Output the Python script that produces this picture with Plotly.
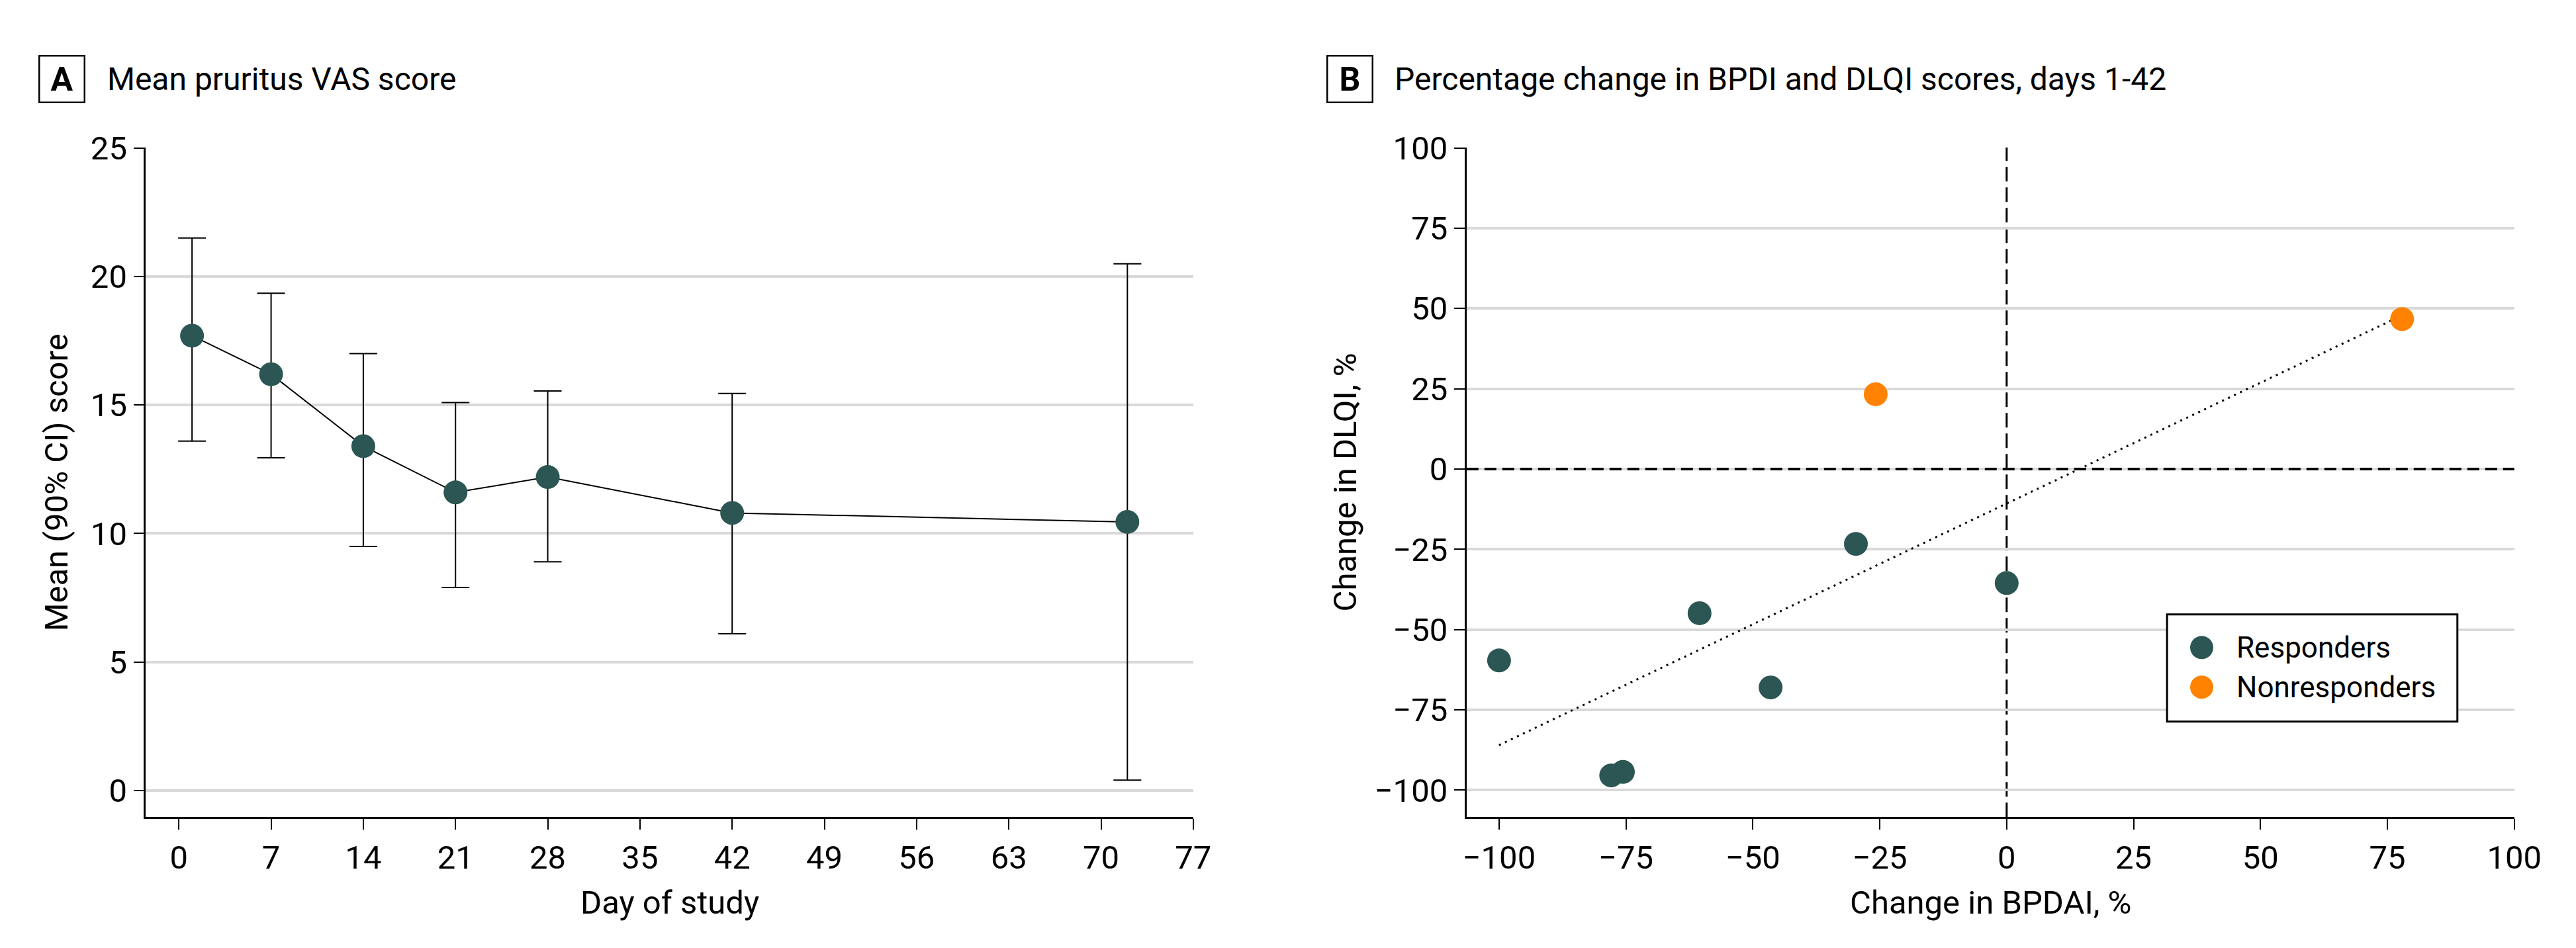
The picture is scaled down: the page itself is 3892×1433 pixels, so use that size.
import numpy as np
import plotly.graph_objects as go

# ---------------- Data ----------------
# Panel A: mean pruritus VAS score with 90% CI
days = [1, 7, 14, 21, 28, 42, 72]
vas_mean = [17.7, 16.2, 13.4, 11.6, 12.2, 10.8, 10.45]
vas_ci_low = [13.6, 12.95, 9.5, 7.9, 8.9, 6.1, 0.4]
vas_ci_high = [21.5, 19.35, 17.0, 15.1, 15.55, 15.45, 20.5]
a_xticks = [0, 7, 14, 21, 28, 35, 42, 49, 56, 63, 70, 77]
a_yticks = [0, 5, 10, 15, 20, 25]

# Panel B: percentage change in BPDAI vs DLQI
resp_bpdai = [-100, -77.9, -75.6, -60.5, -46.5, -29.7, 0]
resp_dlqi = [-59.6, -95.4, -94.3, -44.9, -68.0, -23.3, -35.5]
nonresp_bpdai = [-25.8, 77.9]
nonresp_dlqi = [23.3, 46.7]
b_ticks = [-100, -75, -50, -25, 0, 25, 50, 75, 100]

# ---------------- Style ----------------
W, H = 3892, 1433
TEAL = "#2B5654"
ORANGE = "#FF8300"
GRID = "#D9D9D9"
FONT = "Roboto"
TICK_SIZE = 49
TITLE_SIZE = 48
LABEL_SIZE = 49

def px_x(p):
    return p / W

def px_y(p):
    return 1 - p / H

fig = go.Figure()

# Panel A
err_plus = [h - m for h, m in zip(vas_ci_high, vas_mean)]
err_minus = [m - l for m, l in zip(vas_mean, vas_ci_low)]
fig.add_trace(go.Scatter(
    x=days, y=vas_mean, mode="lines+markers",
    line=dict(color="black", width=2),
    marker=dict(color=TEAL, size=36),
    error_y=dict(type="data", symmetric=False, array=err_plus, arrayminus=err_minus,
                 color="black", thickness=2, width=21),
    xaxis="x", yaxis="y", showlegend=False, name="Mean VAS",
))

# Panel B fit line (ordinary least squares over all patients)
all_x = np.array(resp_bpdai + nonresp_bpdai)
all_y = np.array(resp_dlqi + nonresp_dlqi)
slope, intercept = np.polyfit(all_x, all_y, 1)
fx = np.array([all_x.min(), all_x.max()])
fig.add_trace(go.Scatter(
    x=fx, y=slope * fx + intercept, mode="lines",
    line=dict(color="black", width=3, dash="3px,7px"),
    xaxis="x2", yaxis="y2", showlegend=False, name="Fit",
))
fig.add_trace(go.Scatter(
    x=resp_bpdai, y=resp_dlqi, mode="markers", name="Responders",
    marker=dict(color=TEAL, size=36), xaxis="x2", yaxis="y2", showlegend=False,
))
fig.add_trace(go.Scatter(
    x=nonresp_bpdai, y=nonresp_dlqi, mode="markers", name="Nonresponders",
    marker=dict(color=ORANGE, size=36), xaxis="x2", yaxis="y2", showlegend=False,
))

# Reference dashed lines at zero
fig.add_shape(type="line", xref="x2", yref="y2 domain", x0=0, x1=0, y0=0, y1=1,
              line=dict(color="black", width=3, dash="22px,9px"), layer="below")
fig.add_shape(type="line", xref="x2 domain", yref="y2", x0=0, x1=1, y0=0, y1=0,
              line=dict(color="black", width=4, dash="18px,9px"), layer="above")

Y_TOP, Y_BOT = 191.7, 1223.3
A_L, A_R = 209, 1810.7
B_L, B_R = 2228.7, 3831
ydom = [px_y(Y_BOT), px_y(Y_TOP)]
axis_common = dict(
    showline=True, linecolor="black", linewidth=2.5, ticks="outside", ticklen=16,
    tickwidth=2, tickcolor="black", tickfont=dict(family=FONT, size=TICK_SIZE, color="black"),
    zeroline=False, mirror=False,
)

fig.update_layout(
    width=W, height=H, margin=dict(l=0, r=0, t=0, b=0),
    paper_bgcolor="white", plot_bgcolor="white",
    font=dict(family=FONT, color="black"),
    xaxis=dict(domain=[px_x(A_L), px_x(A_R)], range=[-2.5, 77], tickvals=a_xticks,
               showgrid=False, anchor="y", **axis_common),
    yaxis=dict(domain=ydom, range=[-1.04, 25.02], tickvals=a_yticks, showgrid=True,
               gridcolor=GRID, gridwidth=4, anchor="x", **axis_common),
    xaxis2=dict(domain=[px_x(B_L), px_x(B_R)], range=[-106.4, 100], tickvals=b_ticks,
                showgrid=False, anchor="y2", **axis_common),
    yaxis2=dict(domain=ydom, range=[-108.4, 100.1], tickvals=b_ticks, showgrid=True,
                gridcolor=GRID, gridwidth=4, anchor="x2", **axis_common),
)

# Axis titles
label_font = dict(family=FONT, size=LABEL_SIZE, color="black")
for xc, text in [((A_L + A_R) / 2, "Day of study"), ((B_L + B_R) / 2, "Change in BPDAI, %")]:
    fig.add_annotation(xref="paper", yref="paper", x=px_x(xc), y=px_y(1355),
                       xanchor="center", yanchor="middle", text=text, showarrow=False,
                       font=label_font)
for xc, text in [(72, "Mean (90% CI) score"), (2043, "Change in DLQI, %")]:
    fig.add_annotation(xref="paper", yref="paper", x=px_x(xc), y=px_y((Y_TOP + Y_BOT) / 2),
                       xanchor="center", yanchor="middle", text=text, showarrow=False,
                       textangle=-90, font=label_font)

# Panel titles with boxed letters
for letter, bx, tx, text in [("A", 45, 148, "Mean pruritus VAS score"),
                             ("B", 2014, 2117, "Percentage change in BPDI and DLQI scores, days 1-42")]:
    fig.add_annotation(xref="paper", yref="paper", x=px_x(bx), y=px_y(86),
                       xanchor="left", yanchor="middle", text=f"<b>{letter}</b>",
                       showarrow=False, bordercolor="black", borderwidth=2.5,
                       width=64, height=66, font=dict(family=FONT, size=50, color="black"))
    fig.add_annotation(xref="paper", yref="paper", x=px_x(tx), y=px_y(86),
                       xanchor="left", yanchor="middle", text=text, showarrow=False,
                       font=dict(family=FONT, size=TITLE_SIZE, color="black"))

# Manual legend (box + circle markers + labels)
fig.add_shape(type="rect", xref="paper", yref="paper",
              x0=px_x(3300), x1=px_x(3744), y0=px_y(1076), y1=px_y(911),
              line=dict(color="black", width=3), fillcolor="white", layer="above")
for name, color, ypix in [("Responders", TEAL, 962), ("Nonresponders", ORANGE, 1023)]:
    fig.add_shape(type="circle", xref="paper", yref="paper",
                  xsizemode="pixel", ysizemode="pixel",
                  xanchor=px_x(3353), yanchor=px_y(ypix),
                  x0=-17.5, x1=17.5, y0=-17.5, y1=17.5,
                  fillcolor=color, line=dict(width=0), layer="above")
    fig.add_annotation(xref="paper", yref="paper", x=px_x(3404), y=px_y(ypix),
                       xanchor="left", yanchor="middle", text=name, showarrow=False,
                       font=dict(family=FONT, size=44, color="black"))

fig.write_html("out.html")
